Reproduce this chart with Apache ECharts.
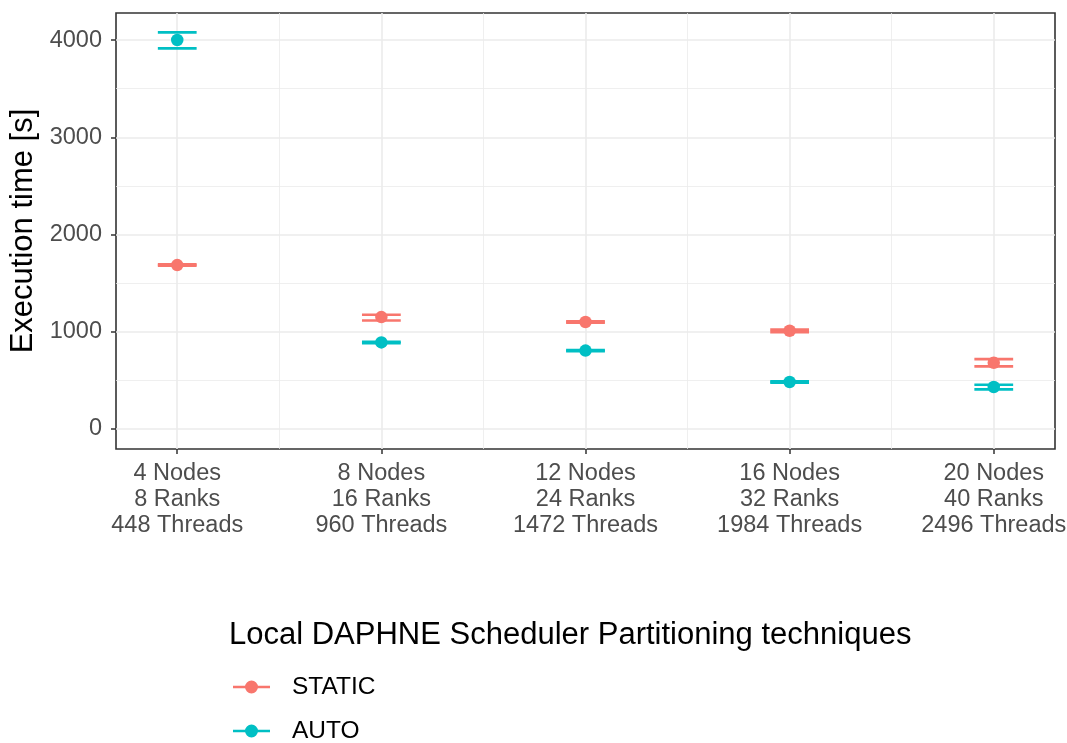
<!DOCTYPE html>
<html>
<head>
<meta charset="utf-8">
<script src="https://cdn.jsdelivr.net/npm/echarts@6/dist/echarts.min.js"></script>
<style>html,body{margin:0;padding:0;background:#fff}#c{width:1067px;height:743px}</style>
</head>
<body>
<div id="c"></div>
<script>
// ---- data ----
const categories = ['4 Nodes\n8 Ranks\n448 Threads', '8 Nodes\n16 Ranks\n960 Threads', '12 Nodes\n24 Ranks\n1472 Threads', '16 Nodes\n32 Ranks\n1984 Threads', '20 Nodes\n40 Ranks\n2496 Threads'];
const staticMean = [1686, 1151, 1100, 1010, 681];
const staticLow  = [1680, 1116, 1094,  996, 643];
const staticHigh = [1693, 1175, 1106, 1022, 719];
const autoMean = [4001, 890, 806, 483, 432];
const autoLow  = [3916, 883, 800, 477, 407];
const autoHigh = [4080, 897, 812, 489, 455];
const yTicks = [0, 1000, 2000, 3000, 4000];
const yMinorGrid = [500, 1500, 2500, 3500];
const seriesNames = ['STATIC', 'AUTO'];
const legendTitle = 'Local DAPHNE Scheduler Partitioning techniques';
const yTitle = 'Execution time [s]';

const COLORS = {STATIC: '#F8766D', AUTO: '#00BFC4'};
const FONT = '"Liberation Sans", Arial, sans-serif';
const xIdx = categories.map((_, i) => i);
const xMinor = categories.slice(1).map((_, i) => i + 0.5);

function meanData(m) { return m.map((v, i) => [i, v]); }
function barData(lo, hi) { return lo.map((v, i) => [i, v, hi[i]]); }

const HALF = 0.095;
function errRender(color) {
  return function (params, api) {
    const x = api.value(0), lo = api.value(1), hi = api.value(2);
    const a = api.coord([x - HALF, lo]), b = api.coord([x + HALF, lo]);
    const c = api.coord([x - HALF, hi]), d = api.coord([x + HALF, hi]);
    const st = {stroke: color, lineWidth: 2.7};
    return {type: 'group', children: [
      {type: 'line', shape: {x1: a[0], y1: a[1], x2: b[0], y2: b[1]}, style: st},
      {type: 'line', shape: {x1: c[0], y1: c[1], x2: d[0], y2: d[1]}, style: st}
    ]};
  };
}

const gridLines = [].concat(
  xIdx.map(v => ({xAxis: v, lineStyle: {width: 1.6}})),
  xMinor.map(v => ({xAxis: v, lineStyle: {width: 0.8}})),
  yTicks.map(v => ({yAxis: v, lineStyle: {width: 1.6}})),
  yMinorGrid.map(v => ({yAxis: v, lineStyle: {width: 0.8}}))
);

const ICON = 'path://M0,5.3 L37,5.3 L37,7.7 L0,7.7 Z M18.5,0 A6.5,6.5 0 1 1 18.5,13 A6.5,6.5 0 1 1 18.5,0 Z';
function legendFor(name, top) {
  return {
    data: [name], orient: 'vertical', left: 233, top: top, padding: 0,
    itemWidth: 37, itemHeight: 13, icon: ICON, selectedMode: false,
    textStyle: {fontFamily: FONT, fontSize: 24.5, color: '#000', lineHeight: 30, padding: [0, 0, 0, 17]}
  };
}

const chart = echarts.init(document.getElementById('c'), null, {renderer: 'canvas'});
chart.setOption({
  animation: false,
  backgroundColor: '#fff',
  textStyle: {fontFamily: FONT},
  title: {
    text: legendTitle, left: 229, top: 617, padding: 0,
    textStyle: {fontFamily: FONT, fontSize: 31, fontWeight: 'normal', color: '#000', lineHeight: 36}
  },
  grid: {left: 116, top: 13, width: 939, height: 436, show: true, borderColor: '#333', borderWidth: 1.6, backgroundColor: '#fff', containLabel: false, outerBoundsMode: 'none'},
  legend: [legendFor(seriesNames[0], 672), legendFor(seriesNames[1], 716)],
  xAxis: {
    type: 'value', min: -0.3, max: 4.3,
    axisLine: {show: false, onZero: false},
    splitLine: {show: false},
    axisTick: {show: true, customValues: xIdx, length: 5, lineStyle: {color: '#333', width: 1.5}},
    axisLabel: {
      customValues: xIdx, formatter: v => categories[Math.round(v)] || '',
      fontFamily: FONT, fontSize: 23.5, color: '#4D4D4D', lineHeight: 26, margin: 12, align: 'center'
    }
  },
  yAxis: {
    type: 'value', min: -206, max: 4279,
    name: yTitle, nameLocation: 'middle', nameRotate: 90, nameGap: 69,
    nameTextStyle: {fontFamily: FONT, fontSize: 31, color: '#000'},
    axisLine: {show: false, onZero: false},
    splitLine: {show: false},
    axisTick: {show: true, customValues: yTicks, length: 5, lineStyle: {color: '#333', width: 1.5}},
    axisLabel: {customValues: yTicks, formatter: v => String(v), fontFamily: FONT, fontSize: 23.5, color: '#4D4D4D', margin: 14}
  },
  series: [
    {
      name: 'grid', type: 'scatter', data: [], z: 1, silent: true,
      markLine: {silent: true, z: 1, symbol: ['none', 'none'], label: {show: false}, animation: false,
        lineStyle: {color: '#EBEBEB', type: 'solid'}, emphasis: {disabled: true}, data: gridLines}
    },
    {name: 'STATIC_err', type: 'custom', z: 3, renderItem: errRender(COLORS.STATIC), data: barData(staticLow, staticHigh), itemStyle: {color: COLORS.STATIC}},
    {name: 'AUTO_err', type: 'custom', z: 3, renderItem: errRender(COLORS.AUTO), data: barData(autoLow, autoHigh), itemStyle: {color: COLORS.AUTO}},
    {name: 'STATIC', type: 'scatter', z: 4, symbolSize: 12.5, data: meanData(staticMean), itemStyle: {color: COLORS.STATIC, opacity: 1, borderWidth: 0}},
    {name: 'AUTO', type: 'scatter', z: 4, symbolSize: 12.5, data: meanData(autoMean), itemStyle: {color: COLORS.AUTO, opacity: 1, borderWidth: 0}}
  ]
});
</script>
</body>
</html>
